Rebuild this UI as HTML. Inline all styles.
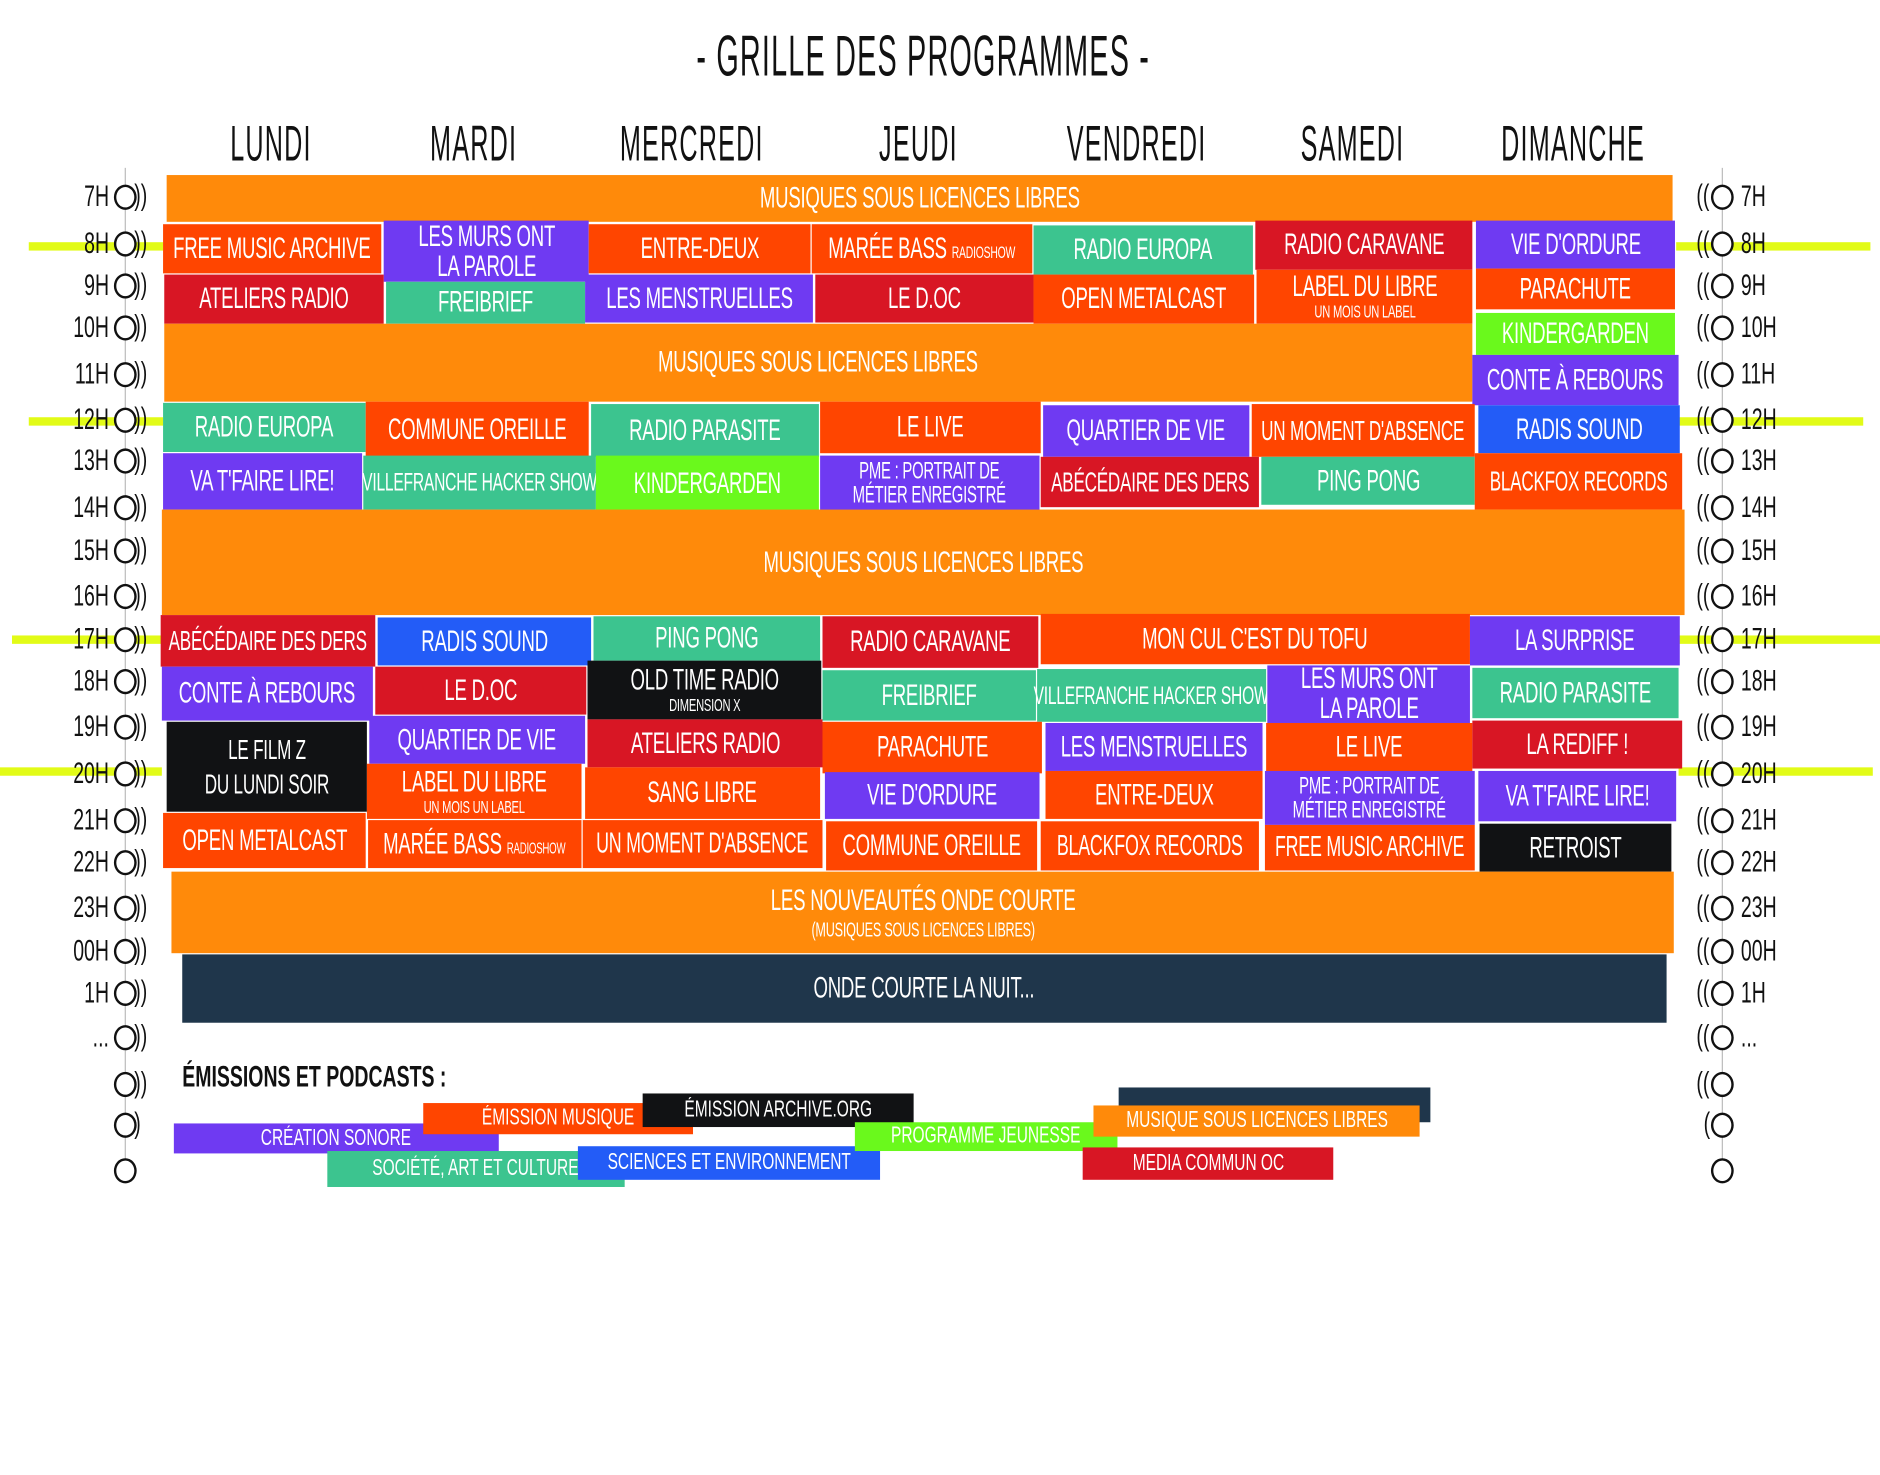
<!DOCTYPE html>
<html><head><meta charset="utf-8"><style>
html,body{margin:0;padding:0;background:#fff;width:1880px;height:1474px;overflow:hidden}
#w{position:absolute;left:0;top:0;width:1568px;height:1230px;transform:scale(1.19898);transform-origin:0 0;font-family:"Liberation Sans Narrow","Liberation Sans",sans-serif}
.b{position:absolute;display:flex;flex-direction:column;align-items:center;justify-content:center;color:#fff;font-size:25px;line-height:1;text-align:center;white-space:nowrap;letter-spacing:-0.3px}
.s{display:inline-block;transform:scaleX(0.62);transform-origin:50% 50%;white-space:nowrap}
.b small{font-size:15px;display:block;margin-top:1px}
.O{background:#ff8a0a}.R{background:#ff4500}.D{background:#d81624}.P{background:#6f3af2}.T{background:#3cc48f}.G{background:#6af91c}.B{background:#235cf7}.K{background:#111214}.N{background:#1f364b}
.y{position:absolute;height:7px;background:#e2fb17}
.l{position:absolute;font-size:22px;color:#111;white-space:nowrap}
.l.n{transform:scaleX(0.65);transform-origin:100% 50%}
.l.m{transform:scaleX(0.65);transform-origin:0 50%}
.d{position:absolute;font-size:42px;color:#111;transform:translateX(-50%) scaleX(0.5);letter-spacing:2px;font-weight:normal;white-space:nowrap;-webkit-text-stroke:0px}
.lg{position:absolute;color:#fff;font-size:19px;display:flex;align-items:center;justify-content:center;white-space:nowrap}
.lg .s{transform:scaleX(0.68)}
</style></head><body><div id="w">
<div class="d" style="left:770px;top:20px;font-size:48px">- GRILLE DES PROGRAMMES -</div>
<div class="d" style="left:226px;top:96px">LUNDI</div>
<div class="d" style="left:395px;top:96px">MARDI</div>
<div class="d" style="left:577px;top:96px">MERCREDI</div>
<div class="d" style="left:766px;top:96px">JEUDI</div>
<div class="d" style="left:948px;top:96px">VENDREDI</div>
<div class="d" style="left:1128px;top:96px">SAMEDI</div>
<div class="d" style="left:1312px;top:96px">DIMANCHE</div>

<div style="position:absolute;left:104px;top:140px;width:1px;height:835px;background:#bbb"></div>
<div style="position:absolute;left:1436px;top:140px;width:1px;height:835px;background:#bbb"></div>

<div class="y" style="left:24px;width:112px;top:202px"></div><div class="y" style="left:1398px;width:162px;top:202px"></div>
<div class="y" style="left:24px;width:112px;top:348px"></div><div class="y" style="left:1398px;width:156px;top:348px"></div>
<div class="y" style="left:10px;width:125px;top:530px"></div><div class="y" style="left:1400px;width:168px;top:530px"></div>
<div class="y" style="left:0px;width:135px;top:640px"></div><div class="y" style="left:1400px;width:162px;top:640px"></div>

<div id="ax"></div>

<div class="b O" style="left:139px;top:146px;width:1256px;height:39px">MUSIQUES SOUS LICENCES LIBRES</div>
<div class="b R" style="left:136px;top:187px;width:182px;height:41px">FREE MUSIC ARCHIVE</div>
<div class="b P" style="left:320px;top:184px;width:171px;height:51px">LES MURS ONT<br>LA PAROLE</div>
<div class="b R" style="left:491px;top:187px;width:185px;height:41px">ENTRE-DEUX</div>
<div class="b R" style="left:677px;top:187px;width:184px;height:41px">MARÉE BASS <span style="font-size:14px">RADIOSHOW</span></div>
<div class="b T" style="left:862px;top:188px;width:183px;height:41px">RADIO EUROPA</div>
<div class="b D" style="left:1047px;top:184px;width:181px;height:41px">RADIO CARAVANE</div>
<div class="b P" style="left:1231px;top:184px;width:166px;height:40px">VIE D'ORDURE</div>
<div class="b D" style="left:137px;top:229px;width:183px;height:41px">ATELIERS RADIO</div>
<div class="b T" style="left:322px;top:235px;width:166px;height:35px">FREIBRIEF</div>
<div class="b P" style="left:488px;top:229px;width:190px;height:40px">LES MENSTRUELLES</div>
<div class="b D" style="left:680px;top:229px;width:182px;height:40px">LE D.OC</div>
<div class="b R" style="left:862px;top:229px;width:184px;height:41px">OPEN METALCAST</div>
<div class="b R" style="left:1048px;top:225px;width:180px;height:45px">LABEL DU LIBRE<small>UN MOIS UN LABEL</small></div>
<div class="b R" style="left:1231px;top:224px;width:166px;height:34px">PARACHUTE</div>
<div class="b G" style="left:1231px;top:261px;width:166px;height:35px">KINDERGARDEN</div>
<div class="b O" style="left:137px;top:270px;width:1091px;height:65px">MUSIQUES SOUS LICENCES LIBRES</div>
<div class="b P" style="left:1228px;top:296px;width:172px;height:42px">CONTE À REBOURS</div>

<div class="b T" style="left:136px;top:336px;width:169px;height:41px">RADIO EUROPA</div>
<div class="b R" style="left:305px;top:335px;width:186px;height:46px">COMMUNE OREILLE</div>
<div class="b T" style="left:493px;top:337px;width:190px;height:44px">RADIO PARASITE</div>
<div class="b R" style="left:684px;top:335px;width:184px;height:43px">LE LIVE</div>
<div class="b P" style="left:870px;top:338px;width:172px;height:43px">QUARTIER DE VIE</div>
<div class="b R" style="left:1044px;top:337px;width:186px;height:44px;font-size:23px">UN MOMENT D'ABSENCE</div>
<div class="b B" style="left:1233px;top:338px;width:168px;height:40px">RADIS SOUND</div>
<div class="b P" style="left:136px;top:378px;width:166px;height:47px">VA T'FAIRE LIRE!</div>
<div class="b T" style="left:303px;top:380px;width:194px;height:45px;font-size:21px">VILLEFRANCHE HACKER SHOW</div>
<div class="b G" style="left:497px;top:380px;width:186px;height:46px">KINDERGARDEN</div>
<div class="b P" style="left:684px;top:380px;width:183px;height:46px;font-size:20px">PME : PORTRAIT DE<br>MÉTIER ENREGISTRÉ</div>
<div class="b D" style="left:868px;top:381px;width:182px;height:42px;font-size:23px">ABÉCÉDAIRE DES DERS</div>
<div class="b T" style="left:1052px;top:381px;width:178px;height:40px">PING PONG</div>
<div class="b R" style="left:1230px;top:378px;width:173px;height:47px;font-size:23px">BLACKFOX RECORDS</div>
<div class="b O" style="left:135px;top:425px;width:1270px;height:88px">MUSIQUES SOUS LICENCES LIBRES</div>

<div class="b D" style="left:134px;top:513px;width:179px;height:43px;font-size:23px">ABÉCÉDAIRE DES DERS</div>
<div class="b B" style="left:315px;top:515px;width:178px;height:40px">RADIS SOUND</div>
<div class="b T" style="left:495px;top:514px;width:189px;height:37px">PING PONG</div>
<div class="b D" style="left:686px;top:514px;width:180px;height:43px">RADIO CARAVANE</div>
<div class="b R" style="left:868px;top:512px;width:358px;height:42px">MON CUL C'EST DU TOFU</div>
<div class="b P" style="left:1226px;top:514px;width:175px;height:41px">LA SURPRISE</div>
<div class="b P" style="left:135px;top:556px;width:176px;height:45px">CONTE À REBOURS</div>
<div class="b D" style="left:313px;top:556px;width:176px;height:40px">LE D.OC</div>
<div class="b K" style="left:490px;top:551px;width:195px;height:49px">OLD TIME RADIO<small>DIMENSION X</small></div>
<div class="b T" style="left:686px;top:559px;width:178px;height:42px">FREIBRIEF</div>
<div class="b T" style="left:865px;top:558px;width:191px;height:44px;font-size:21px">VILLEFRANCHE HACKER SHOW</div>
<div class="b P" style="left:1057px;top:555px;width:169px;height:48px">LES MURS ONT<br>LA PAROLE</div>
<div class="b T" style="left:1228px;top:557px;width:172px;height:42px">RADIO PARASITE</div>
<div class="b K" style="left:139px;top:602px;width:167px;height:75px;font-size:23px;line-height:1.25">LE FILM Z<br>DU LUNDI SOIR</div>
<div class="b P" style="left:308px;top:597px;width:180px;height:40px">QUARTIER DE VIE</div>
<div class="b D" style="left:490px;top:600px;width:196px;height:40px">ATELIERS RADIO</div>
<div class="b R" style="left:686px;top:602px;width:183px;height:43px">PARACHUTE</div>
<div class="b P" style="left:872px;top:603px;width:181px;height:40px">LES MENSTRUELLES</div>
<div class="b R" style="left:1056px;top:603px;width:172px;height:41px">LE LIVE</div>
<div class="b D" style="left:1228px;top:601px;width:175px;height:40px">LA REDIFF !</div>
<div class="b R" style="left:306px;top:637px;width:179px;height:46px">LABEL DU LIBRE<small>UN MOIS UN LABEL</small></div>
<div class="b R" style="left:488px;top:640px;width:196px;height:43px">SANG LIBRE</div>
<div class="b P" style="left:688px;top:644px;width:179px;height:39px">VIE D'ORDURE</div>
<div class="b R" style="left:872px;top:643px;width:181px;height:40px">ENTRE-DEUX</div>
<div class="b P" style="left:1055px;top:643px;width:175px;height:45px;font-size:20px">PME : PORTRAIT DE<br>MÉTIER ENREGISTRÉ</div>
<div class="b P" style="left:1233px;top:643px;width:165px;height:42px">VA T'FAIRE LIRE!</div>
<div class="b R" style="left:136px;top:678px;width:169px;height:46px">OPEN METALCAST</div>
<div class="b R" style="left:307px;top:684px;width:178px;height:40px">MARÉE BASS <span style="font-size:13px">RADIOSHOW</span></div>
<div class="b R" style="left:486px;top:684px;width:200px;height:40px;font-size:24px">UN MOMENT D'ABSENCE</div>
<div class="b R" style="left:689px;top:685px;width:176px;height:41px">COMMUNE OREILLE</div>
<div class="b R" style="left:868px;top:685px;width:182px;height:41px;font-size:24px">BLACKFOX RECORDS</div>
<div class="b R" style="left:1055px;top:688px;width:175px;height:38px;font-size:24px">FREE MUSIC ARCHIVE</div>
<div class="b K" style="left:1234px;top:687px;width:160px;height:40px">RETROIST</div>
<div class="b O" style="left:143px;top:727px;width:1253px;height:68px">LES NOUVEAUTÉS ONDE COURTE<small style="font-size:17px;margin-top:3px">(MUSIQUES SOUS LICENCES LIBRES)</small></div>
<div class="b N" style="left:152px;top:796px;width:1238px;height:57px">ONDE COURTE LA NUIT...</div>

<div class="l m" style="left:152px;top:884px;font-size:25px;font-weight:bold">ÉMISSIONS ET PODCASTS :</div>
<div class="lg N" style="left:933px;top:907px;width:260px;height:29px"></div>
<div class="lg P" style="left:145px;top:937px;width:271px;height:25px">CRÉATION SONORE</div>
<div class="lg R" style="left:353px;top:920px;width:225px;height:26px">ÉMISSION MUSIQUE</div>
<div class="lg K" style="left:536px;top:912px;width:226px;height:28px">ÉMISSION ARCHIVE.ORG</div>
<div class="lg T" style="left:273px;top:960px;width:248px;height:30px">SOCIÉTÉ, ART ET CULTURE</div>
<div class="lg B" style="left:482px;top:956px;width:252px;height:28px">SCIENCES ET ENVIRONNEMENT</div>
<div class="lg G" style="left:713px;top:936px;width:219px;height:24px">PROGRAMME JEUNESSE</div>
<div class="lg O" style="left:912px;top:922px;width:272px;height:26px">MUSIQUE SOUS LICENCES LIBRES</div>
<div class="lg D" style="left:903px;top:957px;width:209px;height:27px">MEDIA COMMUN OC</div>
</div>
<script>
document.querySelectorAll('.b,.lg').forEach(function(e){if(e.innerHTML.trim())e.innerHTML='<span class="s">'+e.innerHTML+'</span>';});
var ys=[["7H",163],["8H",202],["9H",237],["10H",272],["11H",311],["12H",349],["13H",383],["14H",422],["15H",458],["16H",496],["17H",532],["18H",567],["19H",605],["20H",644],["21H",683],["22H",718],["23H",756],["00H",792],["1H",827],["...",864],["",903,"))"],["",937,")"],["",975,""]];
var h="";
ys.forEach(function(a){var t=a[1],w=a.length>2?a[2]:"))",wr=a.length>2?(w=="))"?"((":(w==")"?"(":"")):"((";
h+='<div class="l n" style="right:'+(1568-91)+'px;top:'+(t-13)+'px;font-size:25px">'+a[0]+'</div>';
h+='<div style="position:absolute;left:95px;top:'+(t-9)+'px;width:15px;height:17px;border:2px solid #111;border-radius:50%;background:#fff"></div>';
h+='<div class="l m" style="left:112px;top:'+(t-14)+'px;font-size:25px">'+w+'</div>';
h+='<div style="position:absolute;left:1427px;top:'+(t-9)+'px;width:15px;height:17px;border:2px solid #111;border-radius:50%;background:#fff"></div>';
h+='<div class="l n" style="right:'+(1568-1426)+'px;top:'+(t-14)+'px;font-size:25px">'+wr+'</div>';
h+='<div class="l m" style="left:1452px;top:'+(t-13)+'px;font-size:25px">'+a[0]+'</div>';});
document.getElementById("ax").innerHTML=h;
</script>
</body></html>
